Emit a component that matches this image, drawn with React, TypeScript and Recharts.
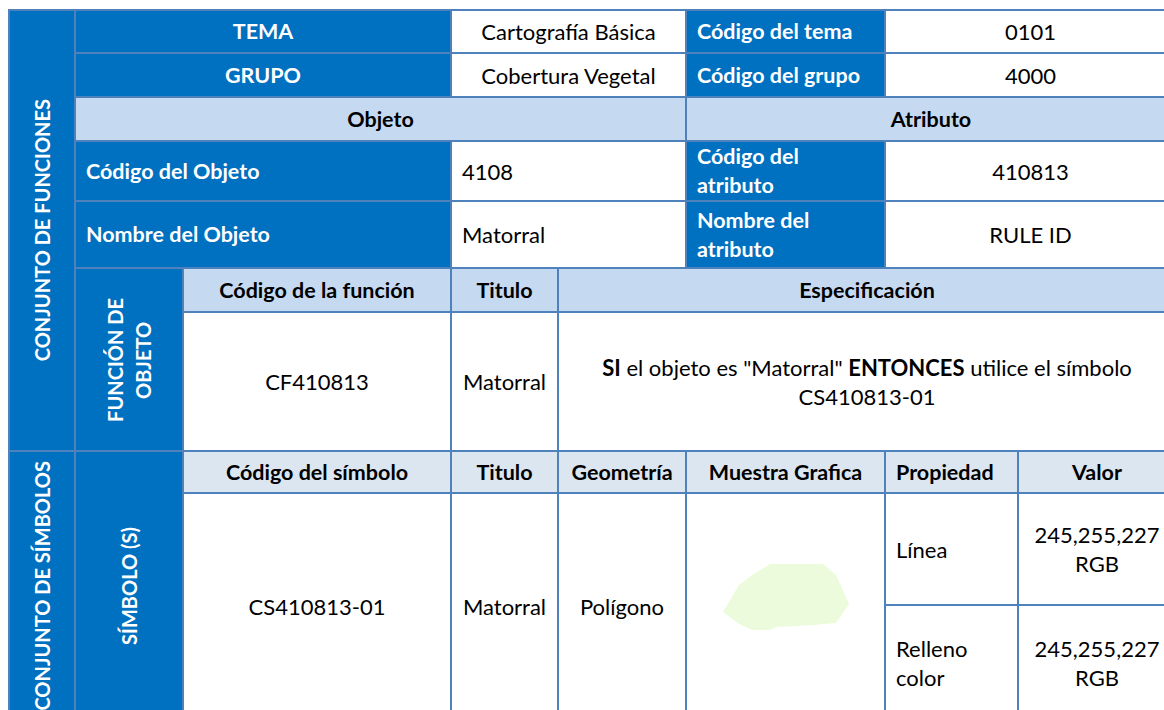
import React from "react";
import { AreaChart, Area, XAxis, YAxis } from "recharts";

// table text
const sideLabels = ["CONJUNTO DE FUNCIONES", "CONJUNTO DE SÍMBOLOS"];
const subLabels = ["FUNCIÓN DE\nOBJETO", "SÍMBOLO (S)"];
const temaRow = ["TEMA", "Cartografía Básica", "Código del tema", "0101"];
const grupoRow = ["GRUPO", "Cobertura Vegetal", "Código del grupo", "4000"];
const sectionHeaders = ["Objeto", "Atributo"];
const objetoRows = [
  ["Código del Objeto", "4108", "Código  del\natributo", "410813"],
  ["Nombre del Objeto", "Matorral", "Nombre del\natributo", "RULE ID"],
];
const funcionHeaders = ["Código de la función", "Titulo", "Especificación"];
const funcionValues = ["CF410813", "Matorral"];
const especificacion = [
  { text: "SI", bold: true },
  { text: "\u00a0el objeto es \"Matorral\"\u00a0", bold: false },
  { text: "ENTONCES", bold: true },
  { text: "\u00a0utilice el símbolo", bold: false },
];
const especificacion2 = "CS410813-01";
const simboloHeaders = ["Código del símbolo", "Titulo", "Geometría", "Muestra Grafica", "Propiedad", "Valor"];
const simboloValues = ["CS410813-01", "Matorral", "Polígono"];
const propiedades = ["Línea", "Relleno\ncolor"];
const valores = ["245,255,227\nRGB", "245,255,227\nRGB"];

// sample polygon outline (x, lower edge, upper edge)
const blobX = [0, 16, 29, 47, 53, 93, 100, 113, 126];
const blobLow = [18, 6, 0, 0, 3, 5, 6, 7, 26];
const blobHigh = [18, 45, 55, 66, 66, 66, 66, 55, 26];

const blobData = blobX.map((x, i) => ({ x, range: [blobLow[i], blobHigh[i]] }));

const DARK = "#0070C0";
const LIGHT = "#C5D9F1";
const LIGHTER = "#DCE6F1";
const LINE = "#4F81BD";
const FONT = "Lato, Carlito, Calibri, 'Open Sans', sans-serif";

const colLines = [9, 75, 183, 451, 558, 686, 885, 1018, 1176];
const rowLines = [10, 53, 97, 141, 201, 268, 312, 451, 493, 605, 720];

interface CellProps {
  r: [number, number];
  c: [number, number];
  fill?: string;
  color?: string;
  bold?: boolean;
  align?: "left" | "center";
  vertical?: boolean;
  children?: React.ReactNode;
}

function Cell({ r, c, fill = "#fff", color = "#000", bold, align = "center", vertical, children }: CellProps) {
  const left = colLines[c[0]] + 1;
  const top = rowLines[r[0]] + 1;
  const width = colLines[c[1]] - colLines[c[0]] - 2;
  const height = rowLines[r[1]] - rowLines[r[0]] - 2;
  return (
    <div
      style={{
        position: "absolute",
        left,
        top,
        width,
        height,
        background: fill,
        color,
        fontWeight: bold ? 700 : 400,
        fontSize: vertical ? 20 : bold ? 21.5 : 22,
        display: "flex",
        alignItems: "center",
        justifyContent: align === "left" ? "flex-start" : "center",
        paddingLeft: align === "left" ? 10 : 0,
        boxSizing: "border-box",
        overflow: "hidden",
      }}
    >
      <div
        style={{
          whiteSpace: "pre-line",
          textAlign: align,
          lineHeight: vertical ? "28px" : "29px",
          writingMode: vertical ? "vertical-rl" : undefined,
          transform: vertical ? "rotate(180deg)" : undefined,
        }}
      >
        {children}
      </div>
    </div>
  );
}

function Blob() {
  return (
    <AreaChart width={126} height={66} data={blobData} margin={{ top: 0, right: 0, bottom: 0, left: 0 }}>
      <XAxis dataKey="x" type="number" domain={[0, 126]} hide />
      <YAxis type="number" domain={[0, 66]} hide />
      <Area
        dataKey="range"
        type="linear"
        stroke="none"
        fill="#ECFBDC"
        fillOpacity={1}
        isAnimationActive={false}
        dot={false}
        activeDot={false}
      />
    </AreaChart>
  );
}

export default function App() {
  const W = "#fff";
  return (
    <div
      style={{
        position: "fixed",
        left: 0,
        top: 0,
        width: 1164,
        height: 710,
        overflow: "hidden",
        background: "#fff",
        fontFamily: FONT,
        fontSize: 22,
      }}
    >
      <div
        style={{
          position: "absolute",
          left: colLines[0] - 1,
          top: rowLines[0] - 1,
          width: colLines[8] - colLines[0] + 2,
          height: rowLines[10] - rowLines[0] + 2,
          background: LINE,
        }}
      />
      <Cell r={[0, 7]} c={[0, 1]} fill={DARK} color={W} bold vertical>{sideLabels[0]}</Cell>
      <Cell r={[7, 10]} c={[0, 1]} fill={DARK} color={W} bold vertical>{sideLabels[1]}</Cell>

      {[temaRow, grupoRow].map((row, i) => (
        <React.Fragment key={row[0]}>
          <Cell r={[i, i + 1]} c={[1, 3]} fill={DARK} color={W} bold>{row[0]}</Cell>
          <Cell r={[i, i + 1]} c={[3, 5]}>{row[1]}</Cell>
          <Cell r={[i, i + 1]} c={[5, 6]} fill={DARK} color={W} bold align="left">{row[2]}</Cell>
          <Cell r={[i, i + 1]} c={[6, 8]}>{row[3]}</Cell>
        </React.Fragment>
      ))}

      <Cell r={[2, 3]} c={[1, 5]} fill={LIGHT} bold>{sectionHeaders[0]}</Cell>
      <Cell r={[2, 3]} c={[5, 8]} fill={LIGHT} bold>{sectionHeaders[1]}</Cell>

      {objetoRows.map((row, i) => (
        <React.Fragment key={row[0]}>
          <Cell r={[3 + i, 4 + i]} c={[1, 3]} fill={DARK} color={W} bold align="left">{row[0]}</Cell>
          <Cell r={[3 + i, 4 + i]} c={[3, 5]} align="left">{row[1]}</Cell>
          <Cell r={[3 + i, 4 + i]} c={[5, 6]} fill={DARK} color={W} bold align="left">{row[2]}</Cell>
          <Cell r={[3 + i, 4 + i]} c={[6, 8]}>{row[3]}</Cell>
        </React.Fragment>
      ))}

      <Cell r={[5, 7]} c={[1, 2]} fill={DARK} color={W} bold vertical>{subLabels[0]}</Cell>
      <Cell r={[5, 6]} c={[2, 3]} fill={LIGHT} bold>{funcionHeaders[0]}</Cell>
      <Cell r={[5, 6]} c={[3, 4]} fill={LIGHT} bold>{funcionHeaders[1]}</Cell>
      <Cell r={[5, 6]} c={[4, 8]} fill={LIGHT} bold>{funcionHeaders[2]}</Cell>
      <Cell r={[6, 7]} c={[2, 3]}>{funcionValues[0]}</Cell>
      <Cell r={[6, 7]} c={[3, 4]}>{funcionValues[1]}</Cell>
      <Cell r={[6, 7]} c={[4, 8]}>
        <div style={{ display: "flex", justifyContent: "center" }}>
          {especificacion.map((s, i) => (
            <span key={i} style={{ fontWeight: s.bold ? 700 : 400, whiteSpace: "pre" }}>{s.text}</span>
          ))}
        </div>
        <div>{especificacion2}</div>
      </Cell>

      <Cell r={[7, 10]} c={[1, 2]} fill={DARK} color={W} bold vertical>{subLabels[1]}</Cell>
      {simboloHeaders.map((h, i) => (
        <Cell key={h} r={[7, 8]} c={[2 + i, 3 + i]} fill={LIGHTER} bold align={i === 4 ? "left" : "center"}>{h}</Cell>
      ))}
      {simboloValues.map((v, i) => (
        <Cell key={v} r={[8, 10]} c={[2 + i, 3 + i]}>{v}</Cell>
      ))}
      <Cell r={[8, 10]} c={[5, 6]}>
        <div style={{ marginTop: -19 }}>
          <Blob />
        </div>
      </Cell>
      {propiedades.map((p, i) => (
        <React.Fragment key={p}>
          <Cell r={[8 + i, 9 + i]} c={[6, 7]} align="left">{p}</Cell>
          <Cell r={[8 + i, 9 + i]} c={[7, 8]}>{valores[i]}</Cell>
        </React.Fragment>
      ))}
    </div>
  );
}
